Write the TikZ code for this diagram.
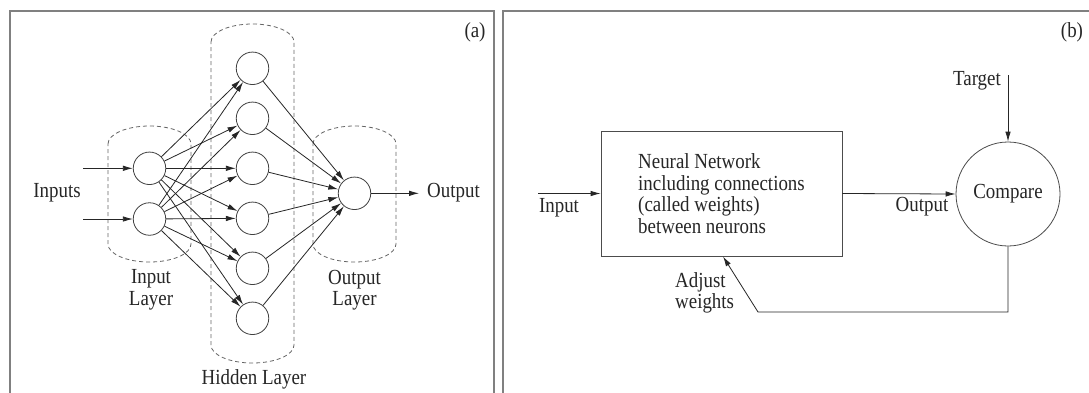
\documentclass[tikz,border=0pt]{standalone}
\usepackage{fontspec}
\setmainfont[FakeStretch=0.88]{Liberation Serif}
\usetikzlibrary{arrows.meta,calc}
\begin{document}
\begin{tikzpicture}[x=1pt,y=-1pt,
  every node/.style={font=\fontsize{21.5}{21.5}\selectfont, inner sep=0pt},
  frame/.style={draw=black!50, line width=1.1pt},
  neuron/.style={circle, draw=black!75, line width=0.8pt, minimum size=32.5pt, inner sep=0pt},
  arr/.style={draw=black!85, line width=0.8pt, -{Latex[length=10pt,width=5.5pt]}},
  layerbox/.style={draw=black!60, line width=0.8pt, dash pattern=on 4pt off 3pt},
  lbl/.style={text=black!85}]
\useasboundingbox (0,0) rectangle (1089,392);
\clip (0,0) rectangle (1089,392);
\fill[white] (0,0) rectangle (1089,392);
% panel frames
\draw[frame] (10,11) rectangle (494,420);
\draw[frame] (503,11) rectangle (1110,420);
\node[lbl] (la) at (475,32) {(a)};
\node[lbl] (lb) at (1072,32) {(b)};

% ---------- panel (a) ----------
% layer boxes
\draw[layerbox] (108,144) arc[start angle=180, end angle=0, x radius=41.5pt, y radius=18pt] -- (191,244) arc[start angle=0, end angle=-180, x radius=41.5pt, y radius=18pt] -- cycle;
\draw[layerbox] (211,42) arc[start angle=180, end angle=0, x radius=41.5pt, y radius=18pt] -- (294,345) arc[start angle=0, end angle=-180, x radius=41.5pt, y radius=18pt] -- cycle;
\draw[layerbox] (313,144) arc[start angle=180, end angle=0, x radius=41.5pt, y radius=18pt] -- (396,244) arc[start angle=0, end angle=-180, x radius=41.5pt, y radius=18pt] -- cycle;

\node[neuron] (i1) at (149.5,168.3) {};
\node[neuron] (i2) at (149.5,219) {};
\foreach \k/\yy in {1/68.3,2/118.3,3/168.3,4/218.3,5/268.3,6/318.3}
  \node[neuron] (h\k) at (252.5,\yy) {};
\node[neuron] (o1) at (354.5,193.3) {};

\coordinate (in1) at (83,168.3);
\coordinate (in2) at (83,219);
\coordinate (outend) at (419,193.3);
\draw[arr] (in1) -- (i1);
\draw[arr] (in2) -- (i2);
\foreach \k in {1,...,6}{
  \draw[arr] (i1) -- (h\k);
  \draw[arr] (i2) -- (h\k);
  \draw[arr] (h\k) -- (o1);
}
\draw[arr] (o1) -- (outend);

\node[lbl] (tinputs) at (57,193) {Inputs};
\node[lbl, anchor=west] (toutput) at (427,193) {Output};
\node[lbl, align=center] (til) at (151,290) {Input\\Layer};
\node[lbl, align=center] (tol) at (354.5,290) {Output\\Layer};
\node[lbl] (thl) at (254,379) {Hidden Layer};

% ---------- panel (b) ----------
\node[draw=black!70, line width=0.8pt, minimum width=241pt, minimum height=125pt, align=left, lbl] (nn) at (721.5,193.5)
  {Neural Network\\including connections\\(called weights)\\between neurons};
\node[circle, draw=black!70, line width=0.8pt, minimum size=104pt, lbl] (cmp) at (1008,194) {Compare};

\coordinate (inb) at (538,193.5);
\coordinate (tgt) at (1008,75);
\coordinate (fb) at (758,312);
\coordinate (fbx) at (723,312);
\draw[arr] (inb) -- (nn.west);
\draw[arr] (nn.east) -- (cmp.west);
\draw[arr] (tgt) -- (cmp.north);
\draw[arr] (cmp.south) |- (fb) -- (nn.south -| fbx);

\node[lbl] (tinb) at (559,208) {Input};
\node[lbl] (toutb) at (922,207) {Output};
\node[lbl, anchor=east] (ttgt) at (1001,81) {Target};
\node[lbl, align=left, anchor=west] (tadj) at (675,293) {Adjust\\weights};
\end{tikzpicture}
\end{document}
